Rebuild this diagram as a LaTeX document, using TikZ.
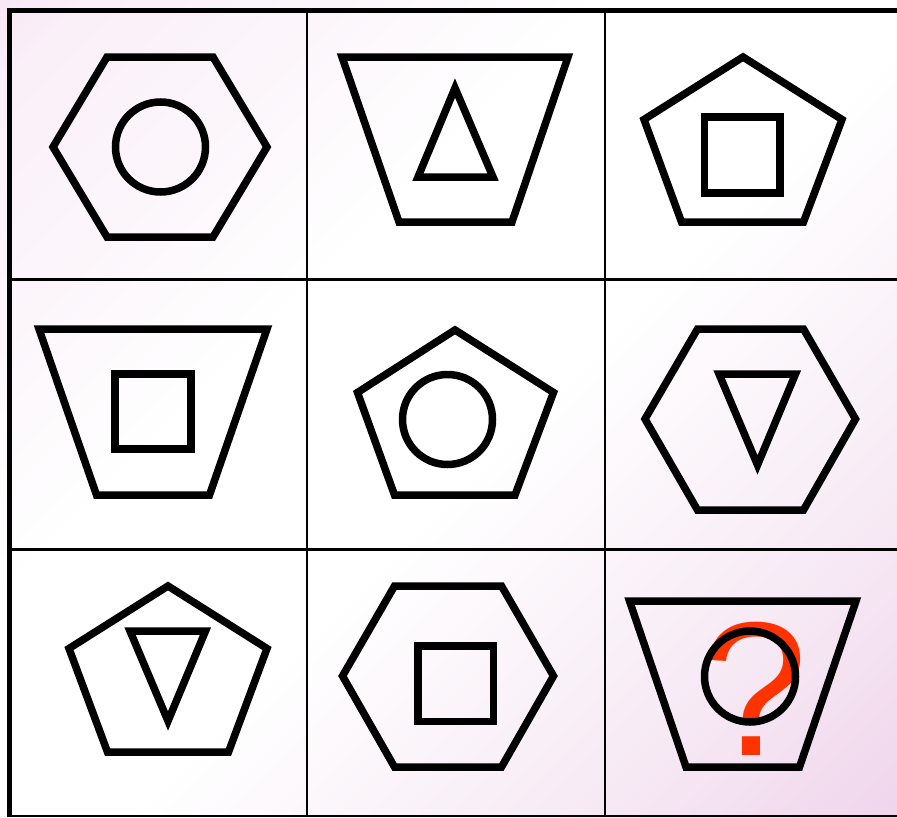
\documentclass[tikz,border=0pt]{standalone}
\usepackage{fontspec}
\newfontfamily\qfont{Liberation Sans}
\definecolor{qred}{RGB}{255,51,0}
\definecolor{bga}{RGB}{247,231,245}
\definecolor{bgb}{RGB}{250,240,248}
\definecolor{bgc}{RGB}{252,246,251}
\definecolor{bgd}{RGB}{247,235,245}
\definecolor{bge}{RGB}{240,213,236}
\pgfdeclarehorizontalshading{bgshade}{100bp}{color(0bp)=(bga); color(25bp)=(bga); color(27.5bp)=(bgb); color(35bp)=(bgc); color(42.5bp)=(white); color(52.5bp)=(white); color(65bp)=(bgd); color(75bp)=(bge); color(100bp)=(bge)}
\begin{document}
\begin{tikzpicture}[x=1pt,y=-1pt,
  fig/.style={line width=7.5pt, draw=black, line join=miter},
  thingrid/.style={line width=2.3pt, draw=black},
  thickgrid/.style={line width=5pt, draw=black}]
\useasboundingbox (0,0) rectangle (897,817);
\begin{scope}
  \clip (0,0) rectangle (897,817);
  \begin{scope}[transform canvas={shift={(448.5,408.5)},rotate=-45}]
    \shade[shading=bgshade] (-606,-606) rectangle (606,606);
  \end{scope}
\end{scope}
% grid
\draw[thingrid] (307,10) -- (307,817);
\draw[thingrid] (605.3,10) -- (605.3,817);
\draw[thingrid] (9,279.5) -- (897,279.5);
\draw[thingrid] (9,549.5) -- (897,549.5);
\draw[thingrid] (9,816) -- (897,816);
\draw[thickgrid] (6.5,10.8) -- (897,10.8);
\draw[thickgrid] (9,8.3) -- (9,817);
% row 1
\draw[fig] (53,147) -- (107,57) -- (213,57) -- (267,147) -- (213,237) -- (107,237) -- cycle;
\draw[fig] (160.5,147) circle[radius=45];
\draw[fig] (342,57) -- (568,57) -- (512,222) -- (399,222) -- cycle;
\draw[fig] (455,88) -- (493,177) -- (418,177) -- cycle;
\draw[fig] (743,57) -- (842,119.5) -- (803.5,222) -- (681.5,222) -- (644,119.5) -- cycle;
\draw[fig] (704.5,117) rectangle (780,193);
% row 2
\draw[fig] (39,329) -- (267,329) -- (209.5,495) -- (96.5,495) -- cycle;
\draw[fig] (115,374) rectangle (191,449);
\draw[fig] (455,330) -- (553.5,392.5) -- (515,495) -- (394.5,495) -- (357.5,392.5) -- cycle;
\draw[fig] (447.5,419.5) circle[radius=45];
\draw[fig] (645,419) -- (697.5,329) -- (803.5,329) -- (855.5,419) -- (803.5,510) -- (697.5,510) -- cycle;
\draw[fig] (719,374) -- (795.5,374) -- (757.5,465) -- cycle;
% row 3
\draw[fig] (168,586) -- (267,648.5) -- (228.5,752) -- (107.5,752) -- (69,648.5) -- cycle;
\draw[fig] (130,631) -- (205.5,631) -- (168,721) -- cycle;
\draw[fig] (342.5,676) -- (394.5,586) -- (501.5,586) -- (553.5,676) -- (501.5,767) -- (394.5,767) -- cycle;
\draw[fig] (418,646) rectangle (493.5,721.5);
\draw[fig] (629.5,601) -- (856,601) -- (799.5,767) -- (686,767) -- cycle;
\node[anchor=base, inner sep=0pt, text=qred, font=\qfont\fontsize{191}{191}\selectfont] (qmark) at (755,755) {?};
\draw[fig] (750,676.5) circle[radius=45.5];
\end{tikzpicture}
\end{document}
